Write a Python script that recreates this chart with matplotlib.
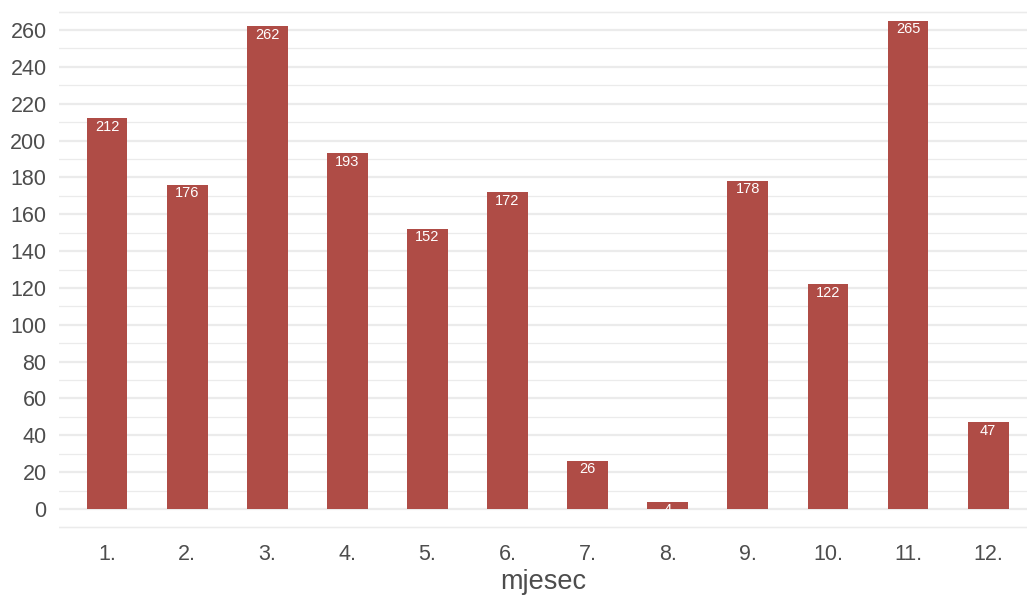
import numpy as np
import matplotlib.pyplot as plt
from matplotlib.ticker import MultipleLocator

plt.rcParams['font.family'] = ['Liberation Sans', 'DejaVu Sans']

###############################################################################
# Data
###############################################################################
months = ['1.', '2.', '3.', '4.', '5.', '6.', '7.', '8.', '9.', '10.', '11.', '12.']
counts = [212, 176, 262, 193, 152, 172, 26, 4, 178, 122, 265, 47]

bar_col  = '#AF4C46'
txt_col  = '#4D4D4D'
grid_col = '#EBEBEB'

###############################################################################
# Figure
###############################################################################
W, H = 1027, 596
fig = plt.figure(figsize=(W/100, H/100), dpi=100)
# panel: left 59px, right 1027px ; y=0 at 509px, y=260 at 30px
ppu = (509-30)/260.0
y_lo, y_hi = -12, 272
top_px = 509 - y_hi*ppu
bot_px = 509 - y_lo*ppu
ax = fig.add_axes([59/W, 1-bot_px/H, (1027-59)/W, (bot_px-top_px)/H])

x = np.arange(1, len(months)+1)
ax.bar(x, counts, width=0.51, color=bar_col, zorder=3)
for xi, v in zip(x, counts):
    ax.annotate(str(v), (xi, v), xytext=(0, -1), textcoords='offset points',
                ha='center', va='top', color='white', fontsize=10.5, zorder=4)

ax.set_xlim(0.4, 0.4 + (1027-59)/80.1)
ax.set_ylim(y_lo, y_hi)
ax.set_xticks(x)
ax.set_xticklabels(months)
ax.yaxis.set_major_locator(MultipleLocator(20))
ax.yaxis.set_minor_locator(MultipleLocator(10))
ax.grid(axis='y', which='major', color=grid_col, linewidth=1.6, zorder=0)
ax.grid(axis='y', which='minor', color=grid_col, linewidth=0.9, zorder=0)
ax.grid(axis='x', visible=False)
# minor lines at -10 and 270 (outside tick range)
for yy in (-10, 270):
    ax.axhline(yy, color=grid_col, linewidth=0.9, zorder=0)

ax.tick_params(axis='both', which='both', length=0, labelsize=15.5, labelcolor=txt_col)
ax.tick_params(axis='x', pad=9.5)
ax.tick_params(axis='y', pad=9)
for s in ax.spines.values():
    s.set_visible(False)
ax.set_xlabel('mjesec', fontsize=19.5, color=txt_col, labelpad=3)

fig.savefig('out.png', dpi=100)
